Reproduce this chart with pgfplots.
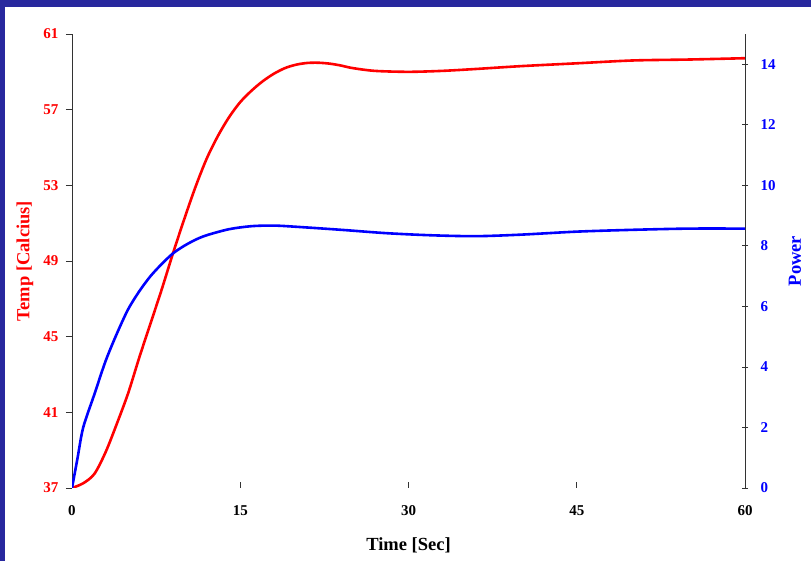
\documentclass[border=0pt]{standalone}
\usepackage{pgfplots}
\pgfplotsset{compat=1.18}
\usepackage{fontspec}
\setmainfont{Liberation Serif}
\definecolor{frame}{RGB}{40,40,158}

\begin{document}
\begin{tikzpicture}
% page frame: dark blue band at top and left
\fill[frame] (0pt,0pt) rectangle (811pt,561pt);
\fill[white] (5pt,0pt) rectangle (811pt,554pt);
\useasboundingbox (0pt,0pt) rectangle (811pt,561pt);

\pgfplotsset{
  every axis/.append style={
    scale only axis,
    width=673pt, height=454pt,
    at={(72pt,73pt)}, anchor=south west,
    xmin=0, xmax=60,
    font=\fontsize{15}{17}\selectfont\bfseries,
    /pgf/number format/assume math mode=true,
    axis line style={black!80, line width=0.8pt},
    tick style={black!80, line width=0.8pt},
    major tick length=6pt,
    label style={font=\fontsize{18.5}{21}\selectfont\bfseries},
  }
}

% Temp, left axis
\begin{axis}[
    axis y line*=left,
    axis x line*=bottom,
    x axis line style={draw=none},
    ymin=37, ymax=61,
    ytick={37,41,...,61},
    xtick={0,15,30,45,60},
    xtick align=inside,
    ytick align=outside,
    yticklabel style={red, xshift=-4pt},
    xticklabel style={black, yshift=-14pt},
    xlabel={Time [Sec]},
    ylabel={Temp [Calcius]},
    ylabel style={red, at={(axis description cs:-0.07,0.5)}, anchor=center},
    xlabel style={black, at={(axis description cs:0.5,-0.126)}, anchor=center},
  ]
\addplot[red, line width=2.6pt, smooth, tension=0.5] coordinates {
  (0,37.0) (1,37.25) (2,37.75) (3,38.9) (4,40.4) (5,42.0) (6,43.9)
  (7,45.7) (8,47.5) (9,49.4) (10,51.2) (11,52.9) (12,54.4) (13,55.6)
  (14,56.6) (15,57.4) (16,58.0) (17,58.5) (18,58.9) (19,59.2)
  (20,59.38) (21,59.47) (22,59.48) (23,59.43) (24,59.33) (25,59.2)
  (27,59.05) (30,59.0) (33,59.05) (36,59.15) (40,59.3) (45,59.45)
  (50,59.6) (55,59.65) (60,59.72)
};
\end{axis}

% Power, right axis
\begin{axis}[
    axis y line*=right,
    axis x line=none,
    ymin=0, ymax=15,
    ytick={0,2,...,14},
    ytick align=center,
    yticklabel style={blue, xshift=9pt},
    ylabel={Power},
    ylabel style={blue, at={(axis description cs:1.074,0.5)}, anchor=center},
  ]
\addplot[blue, line width=2.6pt, smooth, tension=0.5] coordinates {
  (0,0) (0.5,1.0) (1,2.0) (2,3.1) (3,4.2) (4,5.1) (5,5.9) (6,6.5)
  (7,7.0) (8,7.4) (9,7.75) (10,8.0) (11,8.2) (12,8.35) (14,8.55)
  (16,8.65) (18,8.67) (20,8.63) (24,8.53) (28,8.42) (32,8.35)
  (36,8.32) (40,8.37) (45,8.47) (50,8.53) (55,8.57) (60,8.57)
};
\end{axis}
\end{tikzpicture}
\end{document}
